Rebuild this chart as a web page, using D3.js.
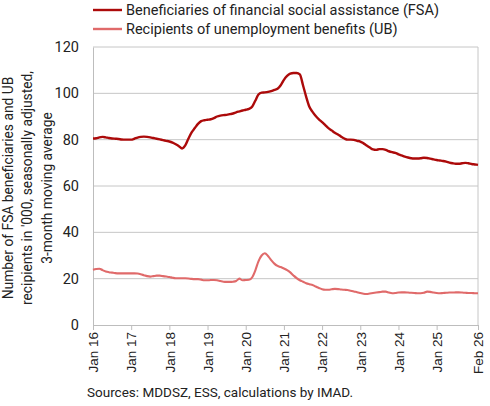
<!DOCTYPE html>
<html><head><meta charset="utf-8">
<script src="https://cdn.jsdelivr.net/npm/d3@7"></script>
<style>body{margin:0;background:#fff;} svg{display:block;font-family:Roboto,"Open Sans",sans-serif;}</style>
</head><body><svg id="c" width="490" height="406"></svg>
<script>
const startYear = 2016, startMonth = 0; // Jan 2016, monthly to Feb 2026
const fsa = [
 80.5,80.6,81.0,81.2,81.0,80.7,80.5,80.4,80.3,80.1,80.0,80.0,
 80.0,80.4,80.9,81.2,81.3,81.2,81.0,80.7,80.4,80.1,79.8,79.5,
 79.2,78.7,78.0,77.2,76.2,77.5,80.5,83.2,85.0,86.8,88.0,88.4,
 88.6,88.8,89.3,90.0,90.4,90.6,90.7,91.0,91.3,91.8,92.2,92.6,
 92.9,93.3,94.2,96.8,99.5,100.3,100.4,100.6,101.0,101.5,102.0,103.5,
 105.8,107.5,108.5,108.8,108.8,108.2,103.5,98.5,94.2,92.0,90.2,88.8,
 87.6,86.3,85.0,84.0,83.0,82.2,81.3,80.5,80.0,80.0,79.9,79.5,
 79.2,78.4,77.5,76.6,75.8,75.6,75.9,75.9,75.6,75.0,74.6,74.3,
 73.7,73.2,72.7,72.3,72.0,71.9,71.9,72.0,72.2,72.1,71.8,71.5,
 71.2,71.0,70.8,70.5,70.1,69.8,69.6,69.6,69.8,70.0,69.8,69.5,
 69.3,69.1
];
const ub = [
 23.8,24.2,24.3,23.7,23.1,22.8,22.6,22.4,22.3,22.3,22.3,22.3,
 22.3,22.3,22.2,21.9,21.5,21.1,20.9,21.1,21.3,21.3,21.1,20.9,
 20.7,20.4,20.2,20.2,20.2,20.2,20.1,19.9,19.8,19.8,19.6,19.3,
 19.3,19.4,19.4,19.3,19.0,18.7,18.6,18.6,18.7,19.0,20.0,19.3,
 19.4,19.5,20.5,23.5,27.5,30.0,31.0,29.8,28.0,26.5,25.5,25.0,
 24.4,23.7,22.7,21.4,20.2,19.3,18.7,18.0,17.6,17.3,16.6,16.0,
 15.4,15.2,15.2,15.4,15.6,15.5,15.3,15.2,15.1,14.8,14.5,14.1,
 13.8,13.5,13.4,13.6,13.8,14.0,14.2,14.4,14.4,14.0,13.7,13.8,
 14.0,14.1,14.1,14.0,13.9,13.8,13.7,13.7,13.9,14.4,14.3,14.0,
 13.8,13.7,13.8,13.9,14.0,14.0,14.1,14.1,14.0,13.9,13.8,13.8,
 13.7,13.7
];
const seriesNames = ["Beneficiaries of financial social assistance (FSA)", "Recipients of unemployment benefits (UB)"];
const seriesColors = ["#AC0A0A", "#E06A6A"];
const xTickLabels = ["Jan 16","Jan 17","Jan 18","Jan 19","Jan 20","Jan 21","Jan 22","Jan 23","Jan 24","Jan 25","Feb 26"];
const xTickIndex = [0,12,24,36,48,60,72,84,96,108,121];
const yTicks = [0,20,40,60,80,100,120];
const yTitle = ["Number of FSA beneficiaries and UB", "recipients in '000, seasonally adjusted,", "3-month moving average"];
const source = "Sources: MDDSZ, ESS, calculations by IMAD.";

const svg = d3.select("#c");
const L = 93, R = 478, T = 47, B = 325;
const x = d3.scaleLinear().domain([0, fsa.length - 1]).range([L, R]);
const y = d3.scaleLinear().domain([0, 120]).range([B, T]);

// gridlines
svg.append("g").selectAll("line").data(yTicks.filter(d => d > 0)).join("line")
  .attr("x1", L).attr("x2", R).attr("y1", d => y(d)).attr("y2", d => y(d))
  .attr("stroke", "#c6c6c6").attr("stroke-width", 1);
// right border
svg.append("line").attr("x1", R).attr("x2", R).attr("y1", T).attr("y2", B)
  .attr("stroke", "#c6c6c6");

// y axis
const yAxis = svg.append("g").attr("transform", `translate(${L},0)`)
  .call(d3.axisLeft(y).tickValues(yTicks).tickSize(0).tickPadding(14));
yAxis.select(".domain").attr("stroke", "#bdbdbd");
yAxis.selectAll("text").attr("font-size", 14.5).attr("fill", "#222").attr("font-family", "Roboto");

// x axis
const xAxis = svg.append("g").attr("transform", `translate(0,${B})`)
  .call(d3.axisBottom(x).tickValues(xTickIndex).tickFormat((d, i) => xTickLabels[i]).tickSize(5).tickSizeOuter(0));
xAxis.select(".domain").attr("stroke", "#bdbdbd");
xAxis.selectAll("line").attr("stroke", "#bdbdbd");
xAxis.selectAll("text").attr("font-size", 13.5).attr("fill", "#222")
  .attr("transform", "rotate(-90)").attr("text-anchor", "end")
  .attr("x", -7).attr("y", 0).attr("dy", "0.35em");

// lines
const line = d3.line().x((d, i) => x(i)).y(d => y(d)).curve(d3.curveMonotoneX);
[fsa, ub].forEach((s, k) => {
  svg.append("path").datum(s).attr("d", line).attr("fill", "none")
    .attr("stroke", seriesColors[k]).attr("stroke-width", k === 0 ? 2.4 : 2.1)
    .attr("stroke-linejoin", "round");
});

// legend
const lg = svg.append("g");
seriesNames.forEach((n, k) => {
  const yy = 10 + k * 19;
  lg.append("line").attr("x1", 93).attr("x2", 122).attr("y1", yy).attr("y2", yy)
    .attr("stroke", seriesColors[k]).attr("stroke-width", 2.4);
  lg.append("text").attr("x", 126).attr("y", yy).attr("dy", "0.35em")
    .attr("font-size", 14.5).attr("fill", "#222").text(n);
});

// y title
const yt = svg.append("text").attr("transform", "translate(8,188) rotate(-90)")
  .attr("text-anchor", "middle").attr("font-size", 13.8).attr("fill", "#222");
yTitle.forEach((t, i) => yt.append("tspan").attr("x", 0).attr("y", i * 19.5).attr("dy", "0.35em").text(t));

// source
svg.append("text").attr("x", 87).attr("y", 397).attr("font-size", 13.5).attr("fill", "#222").text(source);
</script></body></html>
